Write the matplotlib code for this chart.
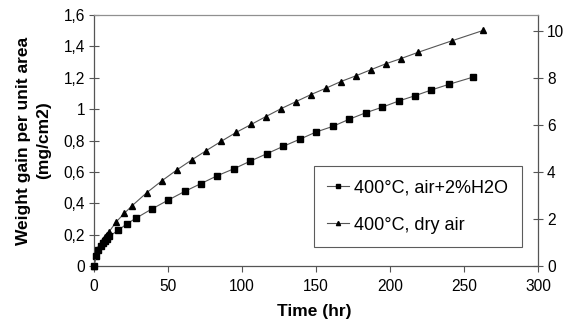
import matplotlib.pyplot as plt

plt.rcParams['font.family'] = ['Liberation Sans', 'DejaVu Sans']

# ------------------------------------------------------------
# Data
# ------------------------------------------------------------
t_wet = [0, 1.5, 3, 4.5, 6, 7.5, 9, 10.5, 16.4, 22.1, 28.2, 39, 50.3, 61.4,
         72.4, 83.4, 94.8, 105.7, 116.8, 127.9, 139, 150, 161.3, 172.3,
         183.6, 194.6, 205.9, 216.7, 227.9, 239.7, 256.4]
w_wet = [0, 0.065, 0.10, 0.125, 0.145, 0.16, 0.175, 0.19, 0.228, 0.268,
         0.304, 0.363, 0.421, 0.476, 0.526, 0.576, 0.621, 0.669, 0.716,
         0.763, 0.808, 0.854, 0.890, 0.935, 0.977, 1.012, 1.052, 1.085,
         1.122, 1.158, 1.205]

t_dry = [0, 1.5, 3, 4.5, 6, 7.5, 9, 10, 14.9, 20.5, 25.5, 35.6, 45.7, 55.9,
         66.0, 75.9, 86, 96.1, 106.3, 116.2, 126.4, 136.5, 146.6, 156.6,
         166.8, 176.8, 187, 197.1, 207.3, 218.9, 241.6, 263]
w_dry = [0, 0.07, 0.11, 0.14, 0.165, 0.185, 0.20, 0.215, 0.280, 0.336,
         0.382, 0.467, 0.542, 0.612, 0.676, 0.736, 0.795, 0.852, 0.903,
         0.953, 1.003, 1.048, 1.093, 1.133, 1.176, 1.212, 1.251, 1.289,
         1.322, 1.362, 1.435, 1.502]

labels = ["400°C, air+2%H2O", "400°C, dry air"]

x_ticks = [0, 50, 100, 150, 200, 250, 300]
y_ticks = [0, 0.2, 0.4, 0.6, 0.8, 1, 1.2, 1.4, 1.6]
y_ticklabels = ["0", "0,2", "0,4", "0,6", "0,8", "1", "1,2", "1,4", "1,6"]
y2_ticks = [0, 2, 4, 6, 8, 10]

# ------------------------------------------------------------
# Figure
# ------------------------------------------------------------
fig = plt.figure(figsize=(5.66, 3.27), dpi=100)
ax = fig.add_axes([0.166, 0.1865, 0.7845, 0.7675])

ax.plot(t_wet, w_wet, color='#555555', lw=0.8, marker='s', ms=4.2,
        mfc='black', mec='black', label=labels[0], clip_on=False, zorder=3)
ax.plot(t_dry, w_dry, color='#555555', lw=0.8, marker='^', ms=5,
        mfc='black', mec='black', label=labels[1], clip_on=False, zorder=3)

ax.set_xlim(0, 300)
ax.set_ylim(0, 1.6)
ax.set_xticks(x_ticks)
ax.set_yticks(y_ticks)
ax.set_yticklabels(y_ticklabels)

ax.tick_params(axis='x', direction='out', length=4, width=0.8,
               color='#555555', labelsize=11.2, pad=5)
ax.tick_params(axis='y', direction='inout', length=7, width=0.8,
               color='#555555', labelsize=11.2, pad=3)

for side in ['left', 'bottom', 'right']:
    ax.spines[side].set_color('#555555')
    ax.spines[side].set_linewidth(0.9)
ax.spines['top'].set_color('#909090')
ax.spines['top'].set_linewidth(0.9)

ax.set_xlabel('Time (hr)', fontsize=12.5, fontweight='bold', va='center')
ax.xaxis.set_label_coords(0.497, -0.183)
ax.set_ylabel('Weight gain per unit area\n(mg/cm2)', fontsize=12.5,
              fontweight='bold', linespacing=1.45, va='center')
ax.yaxis.set_label_coords(-0.136, 0.5)

# secondary axis
ax2 = ax.twinx()
ax2.set_ylim(0, 10.68)
ax2.set_yticks(y2_ticks)
ax2.tick_params(axis='y', direction='inout', length=7, width=0.8,
                color='#555555', labelsize=11.2, pad=3)
for side in ['left', 'bottom', 'right', 'top']:
    ax2.spines[side].set_visible(False)

leg = ax.legend(loc='upper left', bbox_to_anchor=(0.495, 0.398),
                fontsize=13, frameon=True, fancybox=False,
                edgecolor='#333333', handlelength=1.2, handletextpad=0.3,
                labelspacing=1.1, borderpad=0.75, borderaxespad=0,
                markerscale=0.6)
leg.get_frame().set_linewidth(0.8)

plt.savefig("out.png", dpi=100)
